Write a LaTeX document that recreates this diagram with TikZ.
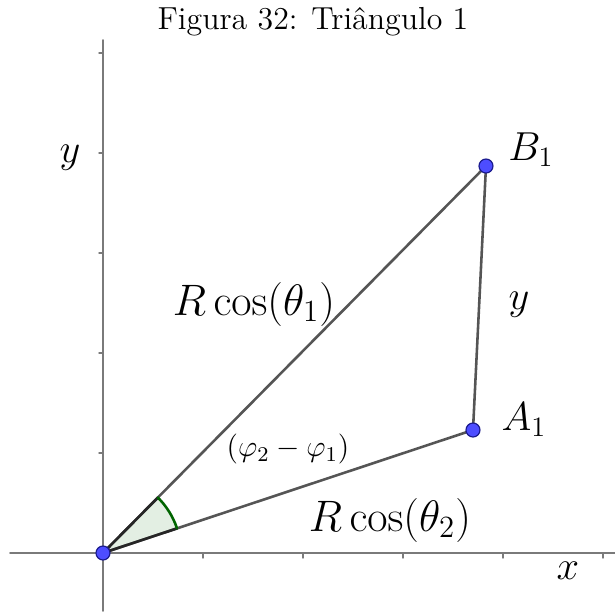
\RequirePackage{fix-cm}
\documentclass[tikz,border=0pt]{standalone}
\usepackage{amsmath, amssymb}
\usepackage{tikz}
\usetikzlibrary{calc, positioning}
\definecolor{axgray}{HTML}{7A7A7A}
\definecolor{segdk}{HTML}{555555}
\definecolor{ptblue}{HTML}{4D4DFF}
\definecolor{ptrim}{HTML}{1A1A8C}
\definecolor{angdk}{HTML}{006400}
\definecolor{angfill}{HTML}{E3EFE3}
\tikzset{
  axline/.style  = {draw=axgray, line width=0.7pt},
  axtick/.style  = {draw=axgray, line width=0.6pt},
  seg/.style     = {draw=segdk, line width=1.1pt},
  angleg/.style  = {draw=angdk, line width=1.1pt},
  angrad/.style  = {draw=black!85, line width=1.1pt},
  ptdot/.style   = {circle, fill=ptblue, draw=ptrim, line width=0.5pt,
                    minimum size=2.1mm, inner sep=0pt},
  biglab/.style  = {font=\fontsize{17.28}{20}\selectfont, inner sep=0pt},
  rclab/.style   = {font=\fontsize{18.8}{22}\selectfont, inner sep=0pt},
  midlab/.style  = {font=\fontsize{12.8}{15}\selectfont, inner sep=0pt},
  captlab/.style = {font=\fontsize{13.6}{16}\selectfont, inner sep=0pt},
}
\begin{document}
\begin{tikzpicture}[x=1.5cm, y=1.5cm, line cap=round, line join=round]
  \useasboundingbox (-1.03,-0.58) rectangle (5.12,5.53);
  \coordinate (O) at (0,0);
  \coordinate (A1) at (3.70,1.23);
  \coordinate (B1) at (3.83,3.87);
  \coordinate (xl) at (-0.93,0);
  \coordinate (xr) at (5.12,0);
  \coordinate (yb) at (0,-0.58);
  \coordinate (yt) at (0,5.13);
  \draw[axline] (xl) -- (xr);
  \draw[axline] (yb) -- (yt);
  \foreach \k in {1,...,5}{\draw[axtick] (\k,0) -- (\k,-0.05);}
  \foreach \k in {1,...,5}{\draw[axtick] (-0.04,\k) -- (0,\k);}
  \fill[angfill] (O) -- (18.39:0.78) arc[start angle=18.39, end angle=45.30, radius=0.78] -- cycle;
  \draw[seg] (O) -- (B1);
  \draw[seg] (O) -- (A1);
  \draw[seg] (A1) -- (B1);
  \draw[angrad] (O) -- (18.39:0.78);
  \draw[angrad] (O) -- (45.30:0.78);
  \draw[angleg] (18.39:0.78) arc[start angle=18.39, end angle=45.30, radius=0.78];
  \node[ptdot] (dO) at (O) {};
  \node[ptdot] (dA1) at (A1) {};
  \node[ptdot] (dB1) at (B1) {};
  \node[captlab, anchor=base] (capt) at (2.10,5.24) {Figura 32: Triângulo 1};
  \node[biglab] (ylab) at (-0.33,3.95) {$y$};
  \node[biglab] (labB1) at (4.28,4.03) {$B_1$};
  \node[biglab] (labA1) at (4.21,1.33) {$A_1$};
  \node[biglab] (labyAB) at (4.16,2.48) {$y$};
  \node[rclab] (labOB) at (1.51,2.49) {$R\cos(\theta_1)$};
  \node[rclab] (labOA) at (2.87,0.33) {$R\cos(\theta_2)$};
  \node[midlab] (labang) at (1.85,1.04) {$(\varphi_2-\varphi_1)$};
  \node[biglab] (xlab) at (4.65,-0.18) {$x$};
\end{tikzpicture}
\end{document}
